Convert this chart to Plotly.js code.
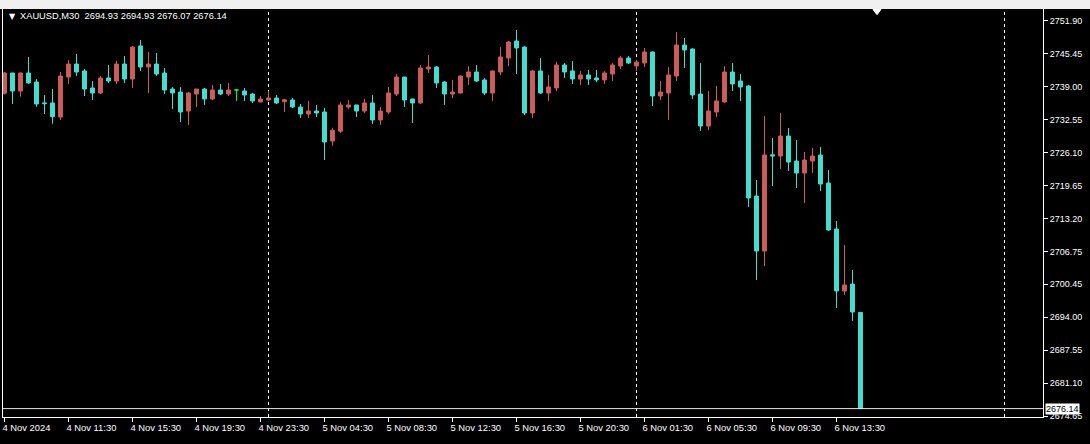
<!DOCTYPE html>
<html><head><meta charset="utf-8">
<script src="https://cdn.plot.ly/plotly-3.0.1.min.js"></script>
<style>html,body{margin:0;padding:0;background:#000;overflow:hidden}#chart{width:1090px;height:444px}</style>
</head><body><div id="chart"></div>
<script>
const symbolName = 'XAUUSD,M30';
const firstBarTime = '2024-11-04 07:30';

const open = [2737.72,2741.69,2738.17,2741.69,2739.93,2735.85,2735.83,2733.09,2740.90,2743.44,
2742.08,2738.76,2737.78,2740.71,2740.12,2743.44,2740.51,2746.96,2742.86,2743.44,
2741.69,2738.56,2737.97,2734.26,2737.58,2738.56,2736.61,2738.36,2737.58,2738.36,
2738.17,2737.58,2736.02,2736.41,2736.80,2736.08,2736.41,2735.04,2733.68,2734.26,
2734.07,2728.40,2730.30,2735.04,2735.44,2734.26,2735.83,2732.51,2734.07,2737.58,
2740.90,2736.61,2735.83,2742.47,2742.86,2739.93,2737.58,2737.78,2740.90,2741.88,
2740.32,2737.78,2741.88,2744.61,2747.94,2746.76,2733.87,2742.08,2737.78,2738.76,
2743.25,2742.08,2740.51,2741.30,2740.71,2740.32,2741.49,2743.05,2744.61,2743.05,
2743.64,2745.79,2737.19,2737.78,2741.10,2747.15,2746.37,2737.58,2731.33,2734.07,
2736.02,2741.88,2740.12,2739.15,2717.66,2706.92,2725.70,2725.47,2729.38,2724.50,
2722.15,2724.50,2725.67,2720.20,2711.22,2699.11,2700.47,2694.93];
const high = [2741.90,2741.69,2741.80,2744.81,2740.51,2737.39,2738.56,2741.88,2744.22,2745.40,
2742.47,2740.12,2741.10,2743.25,2744.03,2745.01,2746.96,2748.13,2745.79,2745.59,
2742.66,2738.95,2738.95,2737.97,2738.56,2738.76,2739.34,2739.54,2739.73,2738.56,
2738.76,2737.78,2737.19,2738.17,2737.39,2736.61,2736.80,2735.63,2736.22,2735.44,
2734.85,2731.00,2736.00,2736.41,2735.44,2736.61,2737.39,2735.04,2738.95,2741.49,
2740.90,2736.61,2743.25,2745.20,2743.05,2740.12,2740.32,2741.20,2743.05,2743.25,
2740.71,2742.20,2746.76,2747.94,2750.08,2746.90,2742.27,2744.61,2741.30,2743.83,
2743.64,2744.03,2742.08,2742.27,2742.27,2742.08,2743.64,2745.01,2745.01,2744.22,
2746.57,2745.90,2740.12,2742.86,2749.69,2748.52,2746.50,2743.64,2738.17,2739.15,
2743.05,2743.64,2741.49,2739.34,2720.79,2733.29,2728.99,2733.87,2730.94,2728.60,
2726.26,2727.04,2727.23,2722.74,2712.78,2708.09,2703.21,2694.93];
const low = [2737.50,2735.63,2737.06,2739.60,2735.10,2733.68,2731.78,2732.51,2739.54,2741.10,
2737.19,2736.41,2737.58,2739.73,2739.54,2739.73,2738.76,2742.08,2737.78,2741.10,
2737.58,2734.65,2732.11,2731.53,2735.04,2735.44,2736.41,2737.39,2737.19,2736.22,
2736.22,2735.83,2736.02,2736.22,2735.63,2734.07,2734.85,2732.90,2732.90,2733.09,
2724.70,2727.50,2730.00,2734.65,2733.09,2733.87,2731.72,2731.53,2733.68,2737.19,
2735.04,2731.92,2735.60,2741.69,2738.76,2735.44,2736.80,2737.70,2739.34,2739.93,
2737.39,2736.22,2741.30,2743.05,2741.49,2733.48,2732.90,2737.58,2736.22,2738.17,
2740.71,2739.54,2739.34,2739.34,2739.93,2739.54,2740.12,2742.47,2743.44,2742.08,
2742.86,2735.24,2736.41,2732.51,2740.12,2742.66,2736.61,2730.36,2730.55,2733.09,
2735.90,2738.17,2736.22,2715.51,2701.26,2703.99,2719.61,2722.94,2722.54,2719.22,
2716.29,2722.15,2718.64,2710.83,2695.79,2698.33,2693.25,2676.07];
const close = [2741.69,2738.17,2741.69,2739.73,2735.63,2735.70,2733.15,2741.10,2743.44,2741.88,
2738.56,2737.78,2740.71,2740.12,2743.44,2740.51,2746.76,2742.86,2743.44,2741.49,
2738.36,2737.78,2734.07,2737.78,2738.56,2736.61,2738.36,2737.58,2738.36,2738.36,
2737.39,2736.22,2736.61,2736.80,2735.83,2736.47,2735.04,2733.68,2734.26,2733.87,
2728.21,2730.50,2735.44,2735.44,2734.26,2735.83,2732.51,2734.26,2737.78,2740.90,
2736.41,2735.83,2742.66,2742.86,2739.73,2737.58,2737.97,2741.10,2741.88,2740.12,
2737.78,2742.08,2744.81,2747.74,2746.57,2733.87,2742.08,2737.78,2738.95,2743.25,
2741.88,2740.51,2741.30,2740.51,2740.32,2741.69,2743.25,2744.61,2743.64,2743.83,
2745.79,2737.19,2737.97,2741.30,2747.15,2746.18,2737.39,2731.33,2734.26,2736.22,
2741.88,2739.54,2738.95,2717.27,2706.92,2725.67,2725.50,2729.38,2724.30,2722.15,
2724.69,2725.47,2720.00,2711.02,2699.11,2700.28,2695.00,2676.14];

const tickTimes = ['2024-11-04 07:30','2024-11-04 11:30','2024-11-04 15:30','2024-11-04 19:30',
'2024-11-04 23:30','2024-11-05 04:30','2024-11-05 08:30','2024-11-05 12:30','2024-11-05 16:30',
'2024-11-05 20:30','2024-11-06 01:30','2024-11-06 05:30','2024-11-06 09:30','2024-11-06 13:30'];
const tickText = ['4 Nov 2024','4 Nov 11:30','4 Nov 15:30','4 Nov 19:30','4 Nov 23:30',
'5 Nov 04:30','5 Nov 08:30','5 Nov 12:30','5 Nov 16:30','5 Nov 20:30','6 Nov 01:30',
'6 Nov 05:30','6 Nov 09:30','6 Nov 13:30'];
const priceLabels = ['2751.90','2745.45','2739.00','2732.55','2726.10','2719.65','2713.20',
'2706.75','2700.45','2694.00','2687.55','2681.10','2674.65'];

// bar times: 30-minute bars, trading pause 00:00-01:00
function pad(n){return (n<10?'0':'')+n;}
function fmt(d){return d.getUTCFullYear()+'-'+pad(d.getUTCMonth()+1)+'-'+pad(d.getUTCDate())+' '+pad(d.getUTCHours())+':'+pad(d.getUTCMinutes());}
const times = [];
(function(){
  const p = firstBarTime.split(/[- :]/).map(Number);
  let t = Date.UTC(p[0],p[1]-1,p[2],p[3],p[4]);
  while(times.length < open.length){
    const d = new Date(t);
    if(d.getUTCHours() !== 0) times.push(fmt(d));
    t += 30*60000;
  }
})();
const idx = times.map((_,i)=>i);

// day separators: first bar of each new day (+ next projected day)
const dayStarts = [];
for(let i=1;i<times.length;i++) if(times[i].slice(0,10)!==times[i-1].slice(0,10)) dayStarts.push(i);
if(dayStarts.length>=2) dayStarts.push(dayStarts[dayStarts.length-1] + (dayStarts[dayStarts.length-1]-dayStarts[dayStarts.length-2]));

const isDoji = open.map((o,i)=>o===close[i]);
const UP = '#CD5C5C', DOWN = '#40E0D0', DOJI = '#00FF00';

const main = {
  type:'candlestick', x:idx,
  open:open.map((v,i)=>isDoji[i]?null:v), high:high.map((v,i)=>isDoji[i]?null:v),
  low:low.map((v,i)=>isDoji[i]?null:v), close:close.map((v,i)=>isDoji[i]?null:v),
  increasing:{line:{color:UP,width:1},fillcolor:UP},
  decreasing:{line:{color:DOWN,width:1},fillcolor:DOWN},
  whiskerwidth:0, hoverinfo:'skip'
};
const dIdx = idx.filter(i=>isDoji[i]);
const doji = {
  type:'candlestick', x:dIdx,
  open:dIdx.map(i=>open[i]), high:dIdx.map(i=>high[i]), low:dIdx.map(i=>low[i]), close:dIdx.map(i=>close[i]),
  increasing:{line:{color:DOJI,width:1},fillcolor:DOJI},
  decreasing:{line:{color:DOJI,width:1},fillcolor:DOJI},
  whiskerwidth:0, hoverinfo:'skip'
};

const n = open.length;
const last = n-1;
const font = 'Liberation Sans, Arial, sans-serif';
const shapes = [];
dayStarts.forEach(s=>shapes.push({type:'line',xref:'x',yref:'paper',x0:s,x1:s,y0:0,y1:1,
  line:{color:'#ffffff',width:1,dash:'3px,3px'},layer:'below'}));
shapes.push({type:'line',xref:'paper',yref:'y',x0:0,x1:1,y0:close[last],y1:close[last],line:{color:'#e6e6e6',width:1}});
// window chrome strips
shapes.push({type:'rect',xref:'paper',yref:'paper',x0:-0.01,x1:1.1,y0:1.0,y1:1.03,line:{width:0},fillcolor:'#f0f0f0'});
shapes.push({type:'rect',xref:'paper',yref:'paper',x0:-0.01,x1:1.1,y0:-0.066,y1:-0.09,line:{width:0},fillcolor:'#f0f0f0'});
// chart-shift marker at the top border
shapes.push({type:'path',xref:'paper',yref:'paper',
  path:'M 0.8365 0.999 L 0.8442 0.999 L 0.8404 0.986 Z',fillcolor:'#ffffff',line:{color:'#ffffff',width:1}});

const layout = {
  width:1090, height:444,
  paper_bgcolor:'#000', plot_bgcolor:'#000',
  margin:{l:3,r:47,t:9,b:27},
  showlegend:false,
  xaxis:{range:[-0.1875,129.8125], tickmode:'array',
    tickvals:tickTimes.map(t=>times.indexOf(t)), ticktext:tickText,
    ticks:'outside', ticklen:4, tickcolor:'#ffffff', ticklabelposition:'outside right',
    ticklabelshift:-3, ticklabelstandoff:2,
    tickfont:{family:font,size:9.4,color:'#ffffff'},
    showgrid:false, zeroline:false, showline:true, mirror:true, linecolor:'#ffffff', linewidth:1,
    rangeslider:{visible:false}, fixedrange:true},
  yaxis:{side:'right', range:[2674.50,2754.185], tickmode:'array',
    tickvals:priceLabels.map(Number), ticktext:priceLabels,
    ticks:'outside', ticklen:4, tickcolor:'#ffffff',
    tickfont:{family:font,size:9,color:'#ffffff'},
    showgrid:false, zeroline:false, showline:true, mirror:true, linecolor:'#ffffff', linewidth:1, fixedrange:true},
  shapes:shapes,
  annotations:[
    {xref:'paper',yref:'paper',x:0.0035,y:0.982,xanchor:'left',yanchor:'middle',showarrow:false,
     text:'▼', font:{family:'DejaVu Sans, sans-serif',size:8,color:'#ffffff'}},
    {xref:'paper',yref:'paper',x:0.0145,y:0.982,xanchor:'left',yanchor:'middle',showarrow:false,
     text:symbolName+'\u00a0\u00a0'+[open[last],high[last],low[last],close[last]].map(v=>v.toFixed(2)).join(' '),
     font:{family:font,size:9.3,color:'#ffffff'}},
    {xref:'paper',yref:'y',x:1,y:close[last],xanchor:'left',yanchor:'middle',xshift:2,showarrow:false,
     text:close[last].toFixed(2), bgcolor:'#ffffff', borderpad:0, font:{family:font,size:9,color:'#000000'}}
  ]
};
Plotly.newPlot('chart',[main,doji],layout,{staticPlot:true,displayModeBar:false});
</script></body></html>
